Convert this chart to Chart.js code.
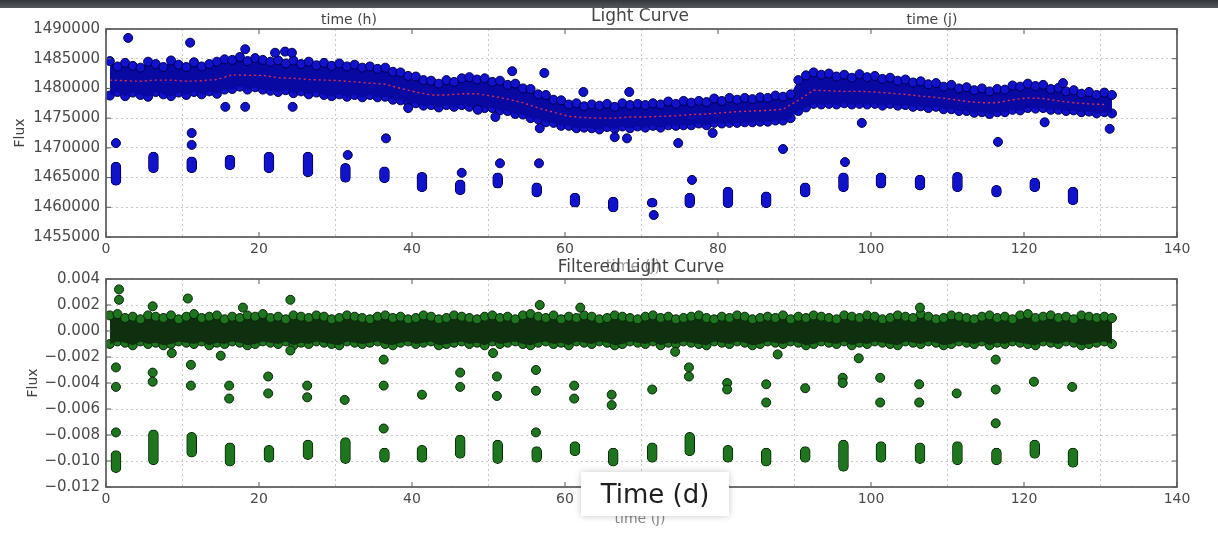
<!DOCTYPE html>
<html>
<head>
<meta charset="utf-8">
<script src="https://cdn.jsdelivr.net/npm/chart.js@4.4.0/dist/chart.umd.min.js"></script>
<style>
  html, body { margin: 0; padding: 0; background: #fff; }
  body { width: 1218px; height: 533px; position: relative; overflow: hidden; font-family: 'DejaVu Sans', sans-serif; }
  canvas { position: absolute; left: 0; }
  #lightChart { top: 0; }
  #filteredChart { top: 250px; }
  .topbar { position: absolute; left: 0; top: 0; width: 1218px; height: 8px; background: linear-gradient(#33363b, #55585d); }
  .lbl { position: absolute; transform: translate(-50%, -50%); white-space: nowrap; color: #454545; }
  .flux { transform: translate(-50%, -50%) rotate(-90deg); }
  .timebox { position: absolute; left: 581px; top: 472px; width: 148px; height: 44px; background: #fff;
             box-shadow: 0 0 7px rgba(0,0,0,0.22); display: flex; align-items: center; justify-content: center;
             font-size: 26px; color: #1e1e1e; }
</style>
</head>
<body>
<canvas id="lightChart" width="1218" height="262"></canvas>
<canvas id="filteredChart" width="1218" height="262"></canvas>
<div class="topbar"></div>

<div class="lbl" style="left:640px; top:15px; font-size:17px;">Light Curve</div>
<div class="lbl" style="left:349px; top:19px; font-size:14px;">time (h)</div>
<div class="lbl" style="left:932px; top:19px; font-size:14px;">time (j)</div>
<div class="lbl flux" style="left:19px; top:133px; font-size:14px;">Flux</div>

<div class="lbl" style="left:641px; top:266px; font-size:17px;">Filtered Light Curve</div>
<div class="lbl" style="left:633px; top:266px; font-size:15px; opacity:0.55;">time (j)</div>
<div class="lbl flux" style="left:32px; top:383px; font-size:14px;">Flux</div>
<div class="lbl" style="left:640px; top:518px; font-size:14px; color:#888;">time (j)</div>
<div class="timebox">Time (d)</div>

<script>
// ---- axes ----
const xTicks = [0, 20, 40, 60, 80, 100, 120, 140];
const xLabels = ['0', '20', '40', '60', '80', '100', '120', '140'];
const topYTicks = [1455000, 1460000, 1465000, 1470000, 1475000, 1480000, 1485000, 1490000];
const topYLabels = ['1455000', '1460000', '1465000', '1470000', '1475000', '1480000', '1485000', '1490000'];
const bottomYTicks = [-0.012, -0.010, -0.008, -0.006, -0.004, -0.002, 0, 0.002, 0.004];
const bottomYLabels = ['\u22120.012', '\u22120.010', '\u22120.008', '\u22120.006', '\u22120.004', '\u22120.002', '0.000', '0.002', '0.004'];

// ---- dense band of the light curve (envelope, read per day) ----
const bandDays = [0.5,1.5,2.5,3.5,4.5,5.5,6.5,7.5,8.5,9.5,10.5,11.5,12.5,13.5,14.5,15.5,16.5,17.5,18.5,19.5,
  20.5,21.5,22.5,23.5,24.5,25.5,26.5,27.5,28.5,29.5,30.5,31.5,32.5,33.5,34.5,35.5,36.5,37.5,38.5,39.5,
  40.5,41.5,42.5,43.5,44.5,45.5,46.5,47.5,48.5,49.5,50.5,51.5,52.5,53.5,54.5,55.5,56.5,57.5,58.5,59.5,
  60.5,61.5,62.5,63.5,64.5,65.5,66.5,67.5,68.5,69.5,70.5,71.5,72.5,73.5,74.5,75.5,76.5,77.5,78.5,79.5,
  80.5,81.5,82.5,83.5,84.5,85.5,86.5,87.5,88.5,89.5,90.5,91.5,92.5,93.5,94.5,95.5,96.5,97.5,98.5,99.5,
  100.5,101.5,102.5,103.5,104.5,105.5,106.5,107.5,108.5,109.5,110.5,111.5,112.5,113.5,114.5,115.5,116.5,117.5,118.5,119.5,
  120.5,121.5,122.5,123.5,124.5,125.5,126.5,127.5,128.5,129.5,130.5,131.5];

const fluxTop = [1484600,1483700,1484300,1483800,1483500,1484500,1484100,1483600,1484700,1484000,
  1483600,1484400,1483700,1484100,1484500,1484900,1484800,1485300,1484600,1485100,
  1484800,1484500,1484700,1484200,1484700,1484100,1484500,1483900,1484300,1483800,
  1484200,1483700,1484000,1483500,1483700,1483300,1483500,1482800,1482700,1482100,
  1482000,1481400,1481300,1480800,1481400,1481100,1481700,1481900,1481500,1481700,
  1481100,1481300,1480600,1480800,1480000,1479900,1479000,1478900,1478100,1478000,
  1477300,1477500,1477000,1477300,1477100,1477400,1476900,1477500,1477200,1477400,
  1477200,1477500,1477300,1477800,1477400,1477900,1477600,1477900,1477700,1478300,
  1477900,1478400,1478100,1478400,1478200,1478500,1478400,1478800,1478600,1479000,
  1481400,1482200,1482700,1482300,1482500,1482000,1482300,1481800,1482400,1481900,
  1482100,1481600,1481800,1481300,1481500,1481000,1481200,1480700,1480900,1480300,
  1480600,1480000,1480200,1479700,1480000,1479500,1479900,1479800,1480500,1480300,
  1480800,1480400,1480600,1479900,1480100,1479500,1479700,1479100,1479400,1478900,
  1479300,1478900];

const fluxBottom = [1478800,1479400,1478700,1479300,1478900,1478600,1479400,1479000,1478700,1479300,
  1478900,1479400,1479000,1479500,1479100,1479800,1479900,1480300,1479800,1480200,
  1479800,1479600,1479400,1479700,1479200,1479500,1479000,1479300,1478900,1478700,
  1479000,1478600,1478900,1478500,1478900,1478500,1478600,1478100,1478000,1477600,
  1477500,1477100,1477200,1476800,1477200,1476900,1477200,1476900,1477000,1476700,
  1476700,1476300,1476200,1475700,1475600,1475000,1474800,1474300,1474200,1473700,
  1473700,1473300,1473400,1473300,1473100,1473500,1473200,1473600,1473300,1473600,
  1473400,1473700,1473400,1473800,1473700,1473800,1473800,1474100,1473800,1474200,
  1474100,1474200,1474200,1474300,1474300,1474400,1474400,1474600,1474600,1475000,
  1476200,1476800,1477400,1477300,1477400,1477300,1477500,1477300,1477400,1477300,
  1477400,1477100,1477400,1477100,1477200,1476900,1477000,1476700,1476900,1476500,
  1476500,1476200,1476200,1475900,1476000,1475700,1476000,1476000,1476400,1476300,
  1476700,1476600,1476700,1476400,1476400,1476200,1476300,1476000,1476100,1475800,
  1476000,1475800];

// red binned trend through the band
const trendDays = [0.5,2.5,4.5,6.5,8.5,10.5,12.5,14.5,16.5,18.5,20.5,22.5,24.5,26.5,28.5,30.5,32.5,34.5,36.5,38.5,
  40.5,42.5,44.5,46.5,48.5,50.5,52.5,54.5,56.5,58.5,60.5,62.5,64.5,66.5,68.5,70.5,72.5,74.5,76.5,78.5,
  80.5,82.5,84.5,86.5,88.5,90.5,92.5,94.5,96.5,98.5,100.5,102.5,104.5,106.5,108.5,110.5,112.5,114.5,116.5,118.5,
  120.5,122.5,124.5,126.5,128.5,130.5];
const trendFlux = [1481400,1481300,1481200,1481400,1481400,1481200,1481300,1481500,1482300,1482200,
  1482200,1481800,1481700,1481500,1481400,1481300,1481100,1480900,1480700,1480000,
  1479400,1478900,1478900,1479100,1479100,1478700,1478200,1477600,1476700,1476000,
  1475300,1475100,1475000,1475000,1475200,1475200,1475300,1475400,1475600,1475700,
  1475900,1476100,1476200,1476300,1476500,1478000,1479700,1479600,1479500,1479500,
  1479400,1479200,1479000,1478700,1478500,1478200,1477800,1477600,1477600,1478100,
  1478400,1478300,1477900,1477600,1477400,1477300];

// isolated points of the raw curve (outliers and ingress/egress points)
const topOutlierDays = [2.9,11.0,18.2,22.1,23.4,24.3,53.1,57.3,62.4,68.4,
  125.1,15.6,18.2,24.4,39.5,48.6,50.9,56.7,66.5,68.1,
  74.8,79.3,88.5,98.8,122.7,131.2,1.3,11.2,11.2,31.6,
  36.6,46.5,51.5,56.6,71.6,76.6,96.6,116.6];
const topOutlierFlux = [1488500,1487700,1486600,1486000,1486200,1486000,1482900,1482600,1479400,1479400,
  1480900,1476900,1476900,1476900,1476700,1476400,1475200,1473300,1471800,1471600,
  1470800,1472500,1469800,1474200,1474300,1473200,1470800,1472500,1470500,1468800,
  1471600,1465800,1467400,1467400,1458700,1464600,1467600,1471000];

// transits (in-transit point clusters)
const transitDays = [1.3,6.2,11.2,16.2,21.3,26.4,31.3,36.4,41.3,46.3,51.2,56.3,61.3,66.3,71.4,76.3,81.3,86.3,91.4,96.4,101.3,106.4,111.3,116.4,121.4,126.4];
const topTransitLow = [1463700,1465800,1465800,1466300,1465800,1465100,1464200,1464100,1462600,1462100,1463200,1461700,1460000,1459200,1460000,1459900,1459900,1459900,1461700,1462600,1463200,1462900,1462600,1461700,1462600,1460400];
const topTransitHigh = [1467600,1469300,1468500,1468800,1469300,1469300,1467400,1466800,1465900,1464600,1465800,1464100,1462400,1461700,1461500,1462400,1463400,1462600,1464100,1465800,1465800,1465400,1465900,1463700,1464900,1463400];

// ---- filtered curve ----
const filtTop = [0.0012,0.0013,0.0010,0.0011,0.0009,0.0012,0.0011,0.0010,0.0012,0.0009,
  0.0011,0.0013,0.0010,0.0011,0.0012,0.0009,0.0011,0.0010,0.0012,0.0011,
  0.0013,0.0010,0.0011,0.0009,0.0012,0.0011,0.0010,0.0012,0.0011,0.0009,
  0.0010,0.0012,0.0011,0.0010,0.0009,0.0011,0.0012,0.0010,0.0011,0.0009,
  0.0010,0.0012,0.0011,0.0009,0.0010,0.0012,0.0011,0.0010,0.0009,0.0011,
  0.0012,0.0010,0.0011,0.0009,0.0012,0.0013,0.0011,0.0010,0.0012,0.0009,
  0.0011,0.0010,0.0012,0.0011,0.0009,0.0010,0.0012,0.0011,0.0010,0.0009,
  0.0011,0.0012,0.0010,0.0011,0.0009,0.0010,0.0011,0.0012,0.0010,0.0009,
  0.0011,0.0010,0.0012,0.0011,0.0009,0.0010,0.0011,0.0010,0.0012,0.0009,
  0.0011,0.0010,0.0012,0.0011,0.0010,0.0009,0.0012,0.0011,0.0010,0.0012,
  0.0011,0.0009,0.0010,0.0012,0.0011,0.0010,0.0013,0.0011,0.0009,0.0010,
  0.0012,0.0011,0.0010,0.0009,0.0011,0.0012,0.0010,0.0011,0.0009,0.0012,
  0.0013,0.0010,0.0011,0.0012,0.0010,0.0011,0.0009,0.0012,0.0011,0.0010,
  0.0011,0.0010];
const filtBottom = [-0.0010,-0.0008,-0.0009,-0.0011,-0.0008,-0.0010,-0.0009,-0.0011,-0.0010,-0.0008,
  -0.0009,-0.0010,-0.0008,-0.0011,-0.0009,-0.0010,-0.0008,-0.0009,-0.0011,-0.0010,
  -0.0008,-0.0009,-0.0010,-0.0008,-0.0011,-0.0009,-0.0010,-0.0008,-0.0009,-0.0010,
  -0.0011,-0.0008,-0.0009,-0.0010,-0.0009,-0.0008,-0.0010,-0.0011,-0.0009,-0.0008,
  -0.0010,-0.0009,-0.0008,-0.0011,-0.0010,-0.0009,-0.0008,-0.0010,-0.0009,-0.0011,
  -0.0008,-0.0010,-0.0009,-0.0008,-0.0010,-0.0011,-0.0009,-0.0008,-0.0010,-0.0009,
  -0.0011,-0.0008,-0.0009,-0.0010,-0.0008,-0.0009,-0.0011,-0.0010,-0.0008,-0.0009,
  -0.0010,-0.0008,-0.0011,-0.0009,-0.0010,-0.0008,-0.0009,-0.0010,-0.0011,-0.0008,
  -0.0009,-0.0010,-0.0008,-0.0009,-0.0011,-0.0010,-0.0008,-0.0009,-0.0010,-0.0008,
  -0.0009,-0.0011,-0.0010,-0.0008,-0.0009,-0.0010,-0.0008,-0.0011,-0.0009,-0.0010,
  -0.0008,-0.0009,-0.0010,-0.0011,-0.0008,-0.0009,-0.0010,-0.0008,-0.0009,-0.0011,
  -0.0010,-0.0008,-0.0009,-0.0010,-0.0008,-0.0011,-0.0009,-0.0010,-0.0008,-0.0009,
  -0.0010,-0.0011,-0.0008,-0.0009,-0.0010,-0.0008,-0.0009,-0.0011,-0.0010,-0.0009,
  -0.0008,-0.0010];

const filtTransitLow = [-0.0109,-0.0103,-0.0097,-0.0104,-0.0101,-0.0099,-0.0102,-0.0101,-0.0101,-0.0098,-0.0102,-0.0101,-0.0096,-0.0104,-0.0101,-0.0096,-0.0101,-0.0104,-0.0101,-0.0108,-0.0101,-0.0102,-0.0103,-0.0103,-0.0098,-0.0105];
const filtTransitHigh = [-0.0092,-0.0076,-0.0078,-0.0086,-0.0088,-0.0084,-0.0082,-0.0090,-0.0088,-0.0080,-0.0084,-0.0089,-0.0085,-0.0090,-0.0086,-0.0078,-0.0088,-0.0090,-0.0089,-0.0084,-0.0085,-0.0086,-0.0085,-0.0090,-0.0084,-0.0090];

const filtOutlierDays = [1.3,1.3,1.3, 6.1,6.1, 11.1,11.1, 16.1,16.1, 21.2,21.2, 26.3,26.3, 31.2, 36.3,36.3,36.3, 41.3,
  46.3,46.3, 51.1,51.1, 56.2,56.2,56.2, 61.2,61.2, 66.1,66.1, 71.4, 76.2,76.2, 81.2,81.2, 86.3,86.3, 87.8, 91.4,
  96.3,96.3, 98.4, 101.2,101.2, 106.3,106.3, 111.2, 116.3,116.3,116.3, 121.3, 126.3,
  1.7,1.7,10.7,24.1,6.1,17.9,56.7,62.0,106.4, 8.6,15.0,24.1,50.6,74.4];
const filtOutlierFlux = [-0.0028,-0.0043,-0.0078, -0.0032,-0.0039, -0.0026,-0.0042, -0.0042,-0.0052, -0.0035,-0.0048, -0.0042,-0.0051, -0.0053, -0.0022,-0.0042,-0.0075, -0.0049,
  -0.0032,-0.0043, -0.0035,-0.0050, -0.0030,-0.0046,-0.0078, -0.0042,-0.0052, -0.0049,-0.0057, -0.0045, -0.0028,-0.0035, -0.0040,-0.0045, -0.0041,-0.0055, -0.0018, -0.0044,
  -0.0036,-0.0040, -0.0021, -0.0036,-0.0055, -0.0041,-0.0055, -0.0048, -0.0022,-0.0045,-0.0071, -0.0039, -0.0043,
  0.0032,0.0024,0.0025,0.0024,0.0019,0.0018,0.0020,0.0018,0.0018, -0.0017,-0.0019,-0.0015,-0.0017,-0.0016];

Chart.defaults.font.family = "'DejaVu Sans', sans-serif";

const toPoints = (xs, ys) => xs.map((x, i) => ({ x: x, y: ys[i] }));
const toBars = (xs, lo, hi) => xs.map((x, i) => ({ x: x, y: [lo[i], hi[i]] }));

// box round the plot plus inward tick marks, like matplotlib
const frame = {
  id: 'frame',
  afterDatasetsDraw(chart) {
    const { ctx, chartArea: a, scales } = chart;
    ctx.save();
    ctx.setLineDash([]);
    ctx.strokeStyle = '#5a5a5a';
    ctx.lineWidth = 1;
    scales.x.ticks.forEach(t => {
      const px = scales.x.getPixelForValue(t.value);
      ctx.beginPath();
      ctx.moveTo(px, a.bottom); ctx.lineTo(px, a.bottom - 5);
      ctx.moveTo(px, a.top); ctx.lineTo(px, a.top + 5);
      ctx.stroke();
    });
    scales.y.ticks.forEach(t => {
      const py = scales.y.getPixelForValue(t.value);
      ctx.beginPath();
      ctx.moveTo(a.left, py); ctx.lineTo(a.left + 5, py);
      ctx.moveTo(a.right, py); ctx.lineTo(a.right - 5, py);
      ctx.stroke();
    });
    ctx.lineWidth = 1.7;
    ctx.strokeRect(a.left, a.top, a.right - a.left, a.bottom - a.top);
    ctx.restore();
  }
};

function makeScales(yTicks, yLabels) {
  const grid = { color: '#c9c9c9', lineWidth: 1, drawTicks: false };
  return {
    x: {
      type: 'linear', min: 0, max: 140, offset: false,
      afterBuildTicks: s => { s.ticks = xTicks.map(v => ({ value: v })); },
      afterFit: s => { s.height = 25; },
      grid: grid,
      border: { display: false, dash: [2, 3] },
      ticks: { padding: 4, color: '#4a4a4a', font: { size: 14 }, autoSkip: false, maxRotation: 0,
               callback: (v, i) => xLabels[i] }
    },
    y: {
      type: 'linear', min: yTicks[0], max: yTicks[yTicks.length - 1],
      afterBuildTicks: s => { s.ticks = yTicks.map(v => ({ value: v })); },
      afterFit: s => { s.width = 106; },
      grid: grid,
      border: { display: false, dash: [2, 3] },
      ticks: { padding: 6, color: '#4a4a4a', font: { size: 15 }, autoSkip: false,
               callback: (v, i) => yLabels[i] }
    }
  };
}

function bandEdge(data, fill, dot, edge, fillColor) {
  return {
    type: 'line', data: data, order: 3, fill: fill,
    backgroundColor: fillColor, borderColor: 'rgba(0,0,0,0)', borderWidth: 1,
    pointRadius: 4.5, pointBackgroundColor: dot, pointBorderColor: edge, pointBorderWidth: 1
  };
}

function makeChart(id, datasets, yTicks, yLabels) {
  return new Chart(document.getElementById(id), {
    type: 'scatter',
    data: { datasets: datasets },
    options: {
      responsive: false, animation: false, events: [],
      layout: { padding: { left: 0, right: 41, top: 29, bottom: 0 } },
      plugins: { legend: { display: false }, tooltip: { enabled: false } },
      scales: makeScales(yTicks, yLabels)
    },
    plugins: [frame]
  });
}

// raw light curve
const blue = '#1212cc', blueEdge = '#00004e';
makeChart('lightChart', [
  { type: 'line', data: toPoints(trendDays, trendFlux), order: 0, fill: false,
    borderColor: '#d8304e', borderWidth: 1.4, borderDash: [2, 3], pointRadius: 0 },
  { type: 'scatter', data: toPoints(topOutlierDays, topOutlierFlux), order: 1,
    pointRadius: 4.5, backgroundColor: blue, borderColor: blueEdge, borderWidth: 1 },
  { type: 'bar', data: toBars(transitDays, topTransitLow, topTransitHigh), order: 2,
    barThickness: 10, borderRadius: 5, borderSkipped: false,
    backgroundColor: blue, borderColor: blueEdge, borderWidth: 1 },
  bandEdge(toPoints(bandDays, fluxTop), '+1', blue, blueEdge, '#0808a2'),
  bandEdge(toPoints(bandDays, fluxBottom), false, blue, blueEdge, '#0808a2')
], topYTicks, topYLabels);

// filtered light curve
const green = '#1f741f', greenEdge = '#072507';
makeChart('filteredChart', [
  { type: 'scatter', data: toPoints(filtOutlierDays, filtOutlierFlux), order: 1,
    pointRadius: 4.5, backgroundColor: green, borderColor: greenEdge, borderWidth: 1 },
  { type: 'bar', data: toBars(transitDays, filtTransitLow, filtTransitHigh), order: 2,
    barThickness: 10, borderRadius: 5, borderSkipped: false,
    backgroundColor: green, borderColor: greenEdge, borderWidth: 1 },
  bandEdge(toPoints(bandDays, filtTop), '+1', green, greenEdge, '#0f300f'),
  bandEdge(toPoints(bandDays, filtBottom), false, green, greenEdge, '#0f300f')
], bottomYTicks, bottomYLabels);
</script>
</body>
</html>
